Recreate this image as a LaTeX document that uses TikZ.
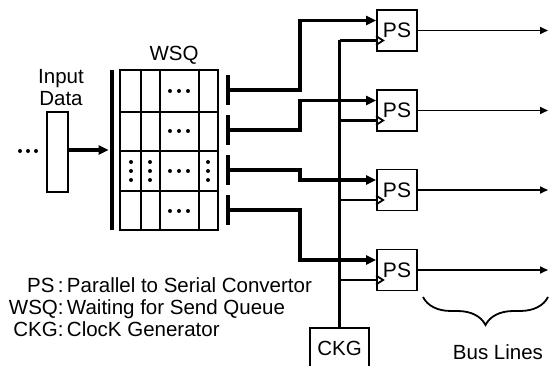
\documentclass[tikz,border=0pt]{standalone}
\usepackage{fontspec}
\setmainfont{Liberation Sans}
\usetikzlibrary{arrows.meta, calc, positioning, decorations.pathreplacing}

\begin{document}
\begin{tikzpicture}[x=1pt, y=-1pt, line width=1.8pt,
    txt/.style={font=\fontsize{20.5}{22}\selectfont},
    bar/.style={fill=black, inner sep=0pt, minimum width=4pt},
    psbox/.style={draw, inner sep=0pt, minimum width=40pt, minimum height=41pt,
        font=\fontsize{21}{21}\selectfont},
    dataline/.style={line width=3.2pt, -{Triangle[length=10pt, width=9pt]}},
    clkline/.style={line width=2.2pt},
    outline/.style={line width=1.8pt, -{Triangle[length=8pt, width=7pt]}}]
    \useasboundingbox (0,0) rectangle (549,366);

    % Input data
    \foreach \x in {20,28,36}
        \fill (\x,151) circle (2pt);
    \node[draw, minimum width=21pt, minimum height=80pt, inner sep=0pt] (inbox) at (57.5,152) {};
    \node[txt, align=center] (inlbl) at (61,88) {Input\\Data};

    % Waiting for send queue
    \node[bar, minimum height=160pt] (qbar) at (111.5,150) {};
    \draw[dataline] (inbox.east |- qbar) -- (qbar.west);
    \node[draw, minimum width=98pt, minimum height=160pt, inner sep=0pt] (wsq) at (169,150) {};
    \node[txt] (wsqlbl) at (174,55) {WSQ};
    \foreach \y in {112,151,191}
        \draw (wsq.west |- 0,\y) -- (wsq.east |- 0,\y);
    \foreach \x in {141,160,199}
        \draw (\x,0 |- wsq.north) -- (\x,0 |- wsq.south);
    \foreach \y in {91,131,171,211}
        \foreach \x in {170,179,188}
            \fill (\x,\y) circle (2pt);
    \foreach \x in {131,150,208}
        \foreach \y in {162,171,180}
            \fill (\x,\y) circle (2pt);

    % Parallel to serial convertors
    \coordinate (jog) at (300,0);
    \coordinate (busend) at (548,0);
    \foreach \i/\y/\by in {1/30.5/90,2/110.5/130,3/190/170,4/270/210} {
        \node[bar, minimum height=30pt] (b\i) at (228,\by) {};
        \node[psbox] (ps\i) at (397,\y) {PS};
        \coordinate (d\i) at ($(ps\i.west)+(0,-10)$);
        \coordinate (c\i) at ($(ps\i.west)+(0,10)$);
        \draw[dataline] (b\i.center) -- (b\i.center -| jog) |- (d\i);
        \draw (c\i)+(0,-4.5) -- +(7,0) -- +(0,4.5);
        \draw[outline] (ps\i.east) -- (ps\i.east -| busend);
    }

    % Clock generator
    \node[txt, minimum width=57pt, minimum height=38pt, inner sep=0pt] (ckg) at (339.5,348) {CKG};
    \draw (ckg.south west) |- (ckg.north east) -- (ckg.south east);
    \draw[clkline] (ckg.north) -- (ckg.north |- c1);
    \foreach \i in {1,...,4}
        \draw[clkline] (ckg.north |- c\i) -- (c\i);

    % Bus lines
    \coordinate (brl) at (423,297);
    \coordinate (brr) at (548,297);
    \draw[decorate, decoration={brace, mirror, amplitude=28pt}] (brl) -- (brr);
    \node[txt] (buslbl) at (498,352) {Bus Lines};

    % Legend
    \node[txt, anchor=west, inner sep=0pt] (legend) at (8,310)
        {\begin{tabular}{@{}r@{}l@{}}
            PS\,: & \,Parallel to Serial Convertor\\
            WSQ: & \,Waiting for Send Queue\\
            CKG: & \,ClocK Generator
        \end{tabular}};
\end{tikzpicture}
\end{document}
